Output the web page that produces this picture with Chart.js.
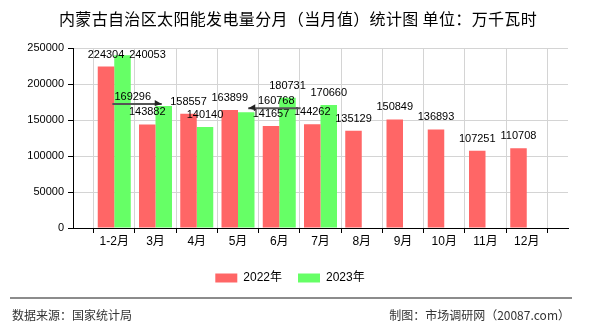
<!DOCTYPE html>
<html>
<head>
<meta charset="utf-8">
<script src="https://cdn.jsdelivr.net/npm/chart.js@4/dist/chart.umd.min.js"></script>
<style>
  html, body { margin: 0; padding: 0; background: #fff; }
  #wrap { position: relative; width: 590px; height: 330px; overflow: hidden; }
  #chart { position: absolute; left: 0; top: 0; }
  .title {
    position: absolute; left: 0; top: 6px; width: 596px; text-align: center;
    font: 16px "Noto Sans CJK SC", sans-serif; letter-spacing: 0.35px; color: #000;
  }
  .rule { position: absolute; left: 10px; top: 297px; width: 562px; height: 0; border-top: 2px solid #8c8c8c; }
  .foot { position: absolute; top: 306px; font: 12px "Noto Sans CJK SC", sans-serif; color: #333; }
</style>
</head>
<body>
<div id="wrap">
  <canvas id="chart" width="590" height="330"></canvas>
  <div class="title">内蒙古自治区太阳能发电量分月（当月值）统计图 单位：万千瓦时</div>
  <div class="rule"></div>
  <div class="foot" style="left:12px">数据来源：国家统计局</div>
  <div class="foot" style="right:20px">制图：市场调研网（20087.com）</div>
</div>
<script>
const months = ['1-2月', '3月', '4月', '5月', '6月', '7月', '8月', '9月', '10月', '11月', '12月'];
const values2022 = [224304, 143882, 158557, 163899, 141657, 144262, 135129, 150849, 136893, 107251, 110708];
const values2023 = [240053, 169296, 140140, 160768, 180731, 170660];
const yTicks = [0, 50000, 100000, 150000, 200000, 250000];

// value labels sit 12px above the bar; a few are nudged sideways (dx, dy)
// and tied back to their bar with an arrowed leader line
const shift2023 = [[25, 12], [-31, 3, true], null, [30, 1, true], null, null];

// the axis runs one slot beyond the first and last month
const pad = (arr) => [null, ...arr, ...Array(months.length - arr.length).fill(null), null];
const labels = ['', ...months, ''];

const valueLabels = {
  id: 'valueLabels',
  afterDatasetsDraw(chart) {
    const ctx = chart.ctx;
    ctx.save();
    ctx.font = '11px "Liberation Sans", Arial, sans-serif';
    ctx.textAlign = 'center';
    ctx.textBaseline = 'middle';
    chart.data.datasets.forEach((ds, di) => {
      const meta = chart.getDatasetMeta(di);
      meta.data.forEach((bar, i) => {
        const v = ds.data[i];
        if (v == null) return;
        const s = di === 1 ? shift2023[i - 1] : null;
        const dx = s ? s[0] : 0, dy = s ? s[1] : 0;
        const tx = bar.x + dx, ty = bar.y - 12 + dy;
        const text = String(v);
        if (s && s[2]) {
          const w = ctx.measureText(text).width;
          const far = dx < 0 ? tx - w / 2 - 2 : tx + w / 2 + 6;
          const near = bar.x + (dx < 0 ? -2 : 2);
          const ly = ty + 7;
          ctx.strokeStyle = '#555';
          ctx.lineWidth = 2;
          ctx.beginPath();
          ctx.moveTo(far, ly);
          ctx.lineTo(near, ly);
          ctx.stroke();
          const dir = dx < 0 ? 1 : -1;
          ctx.fillStyle = '#222';
          ctx.beginPath();
          ctx.moveTo(near, ly);
          ctx.lineTo(near - dir * 7, ly - 4);
          ctx.lineTo(near - dir * 7, ly + 2);
          ctx.closePath();
          ctx.fill();
        }
        ctx.fillStyle = '#000';
        ctx.fillText(text, tx, ty);
      });
    });
    ctx.restore();
  }
};

new Chart(document.getElementById('chart'), {
  type: 'bar',
  data: {
    labels: labels,
    datasets: [
      { label: '2022年', data: pad(values2022), backgroundColor: '#ff6666' },
      { label: '2023年', data: pad(values2023), backgroundColor: '#66ff66' }
    ]
  },
  options: {
    responsive: false,
    animation: false,
    categoryPercentage: 0.8,
    barPercentage: 1,
    layout: { padding: { top: 48, right: 22, bottom: 36, left: 12 } },
    scales: {
      x: {
        offset: false,
        grid: { color: '#d4d4d4', tickColor: '#000', tickLength: 5 },
        border: { color: '#000', width: 1 },
        ticks: {
          color: '#000', padding: 1, maxRotation: 0, autoSkip: false,
          font: { size: 12, family: '"Liberation Sans", "Noto Sans CJK SC", sans-serif' }
        },
        afterFit: (scale) => { scale.height = 28; }
      },
      y: {
        min: 0, max: 250000,
        afterBuildTicks: (scale) => { scale.ticks = yTicks.map(v => ({ value: v })); },
        grid: { color: '#d4d4d4', tickColor: '#000', tickLength: 5 },
        border: { color: '#000', width: 1 },
        ticks: {
          color: '#000', padding: 4,
          callback: (v) => String(v),
          font: { size: 11, family: '"Liberation Sans", Arial, sans-serif' }
        },
        afterFit: (scale) => { scale.width = 61; }
      }
    },
    plugins: {
      legend: {
        position: 'bottom',
        labels: {
          boxWidth: 22, boxHeight: 9, padding: 16, color: '#000',
          font: { size: 12, family: '"Liberation Sans", "Noto Sans CJK SC", sans-serif' }
        }
      },
      title: { display: false },
      tooltip: { enabled: false }
    }
  },
  plugins: [valueLabels]
});
</script>
</body>
</html>
